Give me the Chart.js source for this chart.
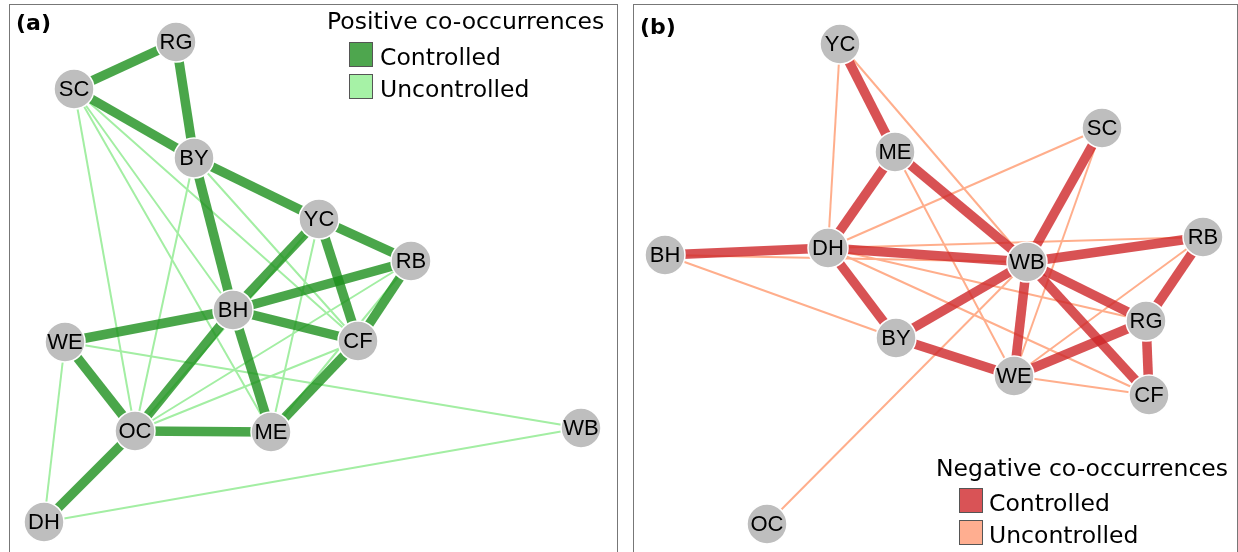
<!DOCTYPE html>
<html>
<head>
<meta charset="utf-8">
<script src="https://cdn.jsdelivr.net/npm/chart.js@4.4.1/dist/chart.umd.min.js"></script>
<style>
  body { margin: 0; background: #fff; width: 1238px; height: 552px; overflow: hidden; position: relative; }
  .panel { position: absolute; top: 4px; border: 1.5px solid #777; box-sizing: border-box; }
  .panel canvas { position: absolute; left: 0; top: 0; }
  .tag { position: absolute; font: bold 22px "DejaVu Sans"; color: #000; }
  .leg { position: absolute; font: 23.5px "DejaVu Sans"; color: #000; line-height: 1; white-space: nowrap; }
  .leg .box { position: absolute; width: 22px; height: 23px; border: 1px solid #555; }
  .leg .txt { position: absolute; }
</style>
</head>
<body>
<div class="panel" id="pa" style="left:9px; width:609px; height:560px;">
  <canvas id="chartA" width="606" height="556"></canvas>
</div>
<div class="panel" id="pb" style="left:633px; width:605px; height:560px;">
  <canvas id="chartB" width="602" height="556"></canvas>
</div>

<div class="tag" style="left:16px; top:10px;">(a)</div>
<div class="tag" style="left:640px; top:14px;">(b)</div>

<div class="leg" style="left:327px; top:10px;">
  <div style="position:absolute; left:0; top:0;">Positive co-occurrences</div>
  <div class="box" style="left:22px; top:32px; background:#4ea64e;"></div>
  <div class="txt" style="left:53px; top:36px;">Controlled</div>
  <div class="box" style="left:22px; top:64px; background:#a6f2a6;"></div>
  <div class="txt" style="left:53px; top:68px;">Uncontrolled</div>
</div>

<div class="leg" style="left:936px; top:457px;">
  <div style="position:absolute; left:0; top:0;">Negative co-occurrences</div>
  <div class="box" style="left:23px; top:31px; background:#d95356;"></div>
  <div class="txt" style="left:53px; top:35px;">Controlled</div>
  <div class="box" style="left:23px; top:63px; background:#ffae90;"></div>
  <div class="txt" style="left:53px; top:67px;">Uncontrolled</div>
</div>

<script>
// (a) positive co-occurrence network - node layout
const nodesA = ['RG', 'SC', 'BY', 'YC', 'RB', 'BH', 'CF', 'WE', 'OC', 'ME', 'DH', 'WB'];
const xA = [166, 64, 184, 309, 401, 223, 348, 55, 125, 261, 34, 571];
const yA = [37, 84, 153, 214, 256, 305, 336, 337, 426, 427, 517, 423];
const controlledA = [
  ['SC', 'RG'], ['RG', 'BY'], ['SC', 'BY'], ['BY', 'YC'], ['BY', 'BH'], ['YC', 'RB'],
  ['YC', 'BH'], ['YC', 'CF'], ['RB', 'BH'], ['RB', 'CF'], ['BH', 'WE'], ['BH', 'CF'],
  ['BH', 'OC'], ['BH', 'ME'], ['CF', 'ME'], ['WE', 'OC'], ['OC', 'ME'], ['OC', 'DH']
];
const uncontrolledA = [
  ['SC', 'OC'], ['SC', 'ME'], ['SC', 'BH'], ['SC', 'CF'], ['BY', 'OC'], ['BY', 'CF'],
  ['YC', 'ME'], ['YC', 'OC'], ['RB', 'OC'], ['RB', 'ME'], ['CF', 'OC'], ['WE', 'WB'],
  ['WE', 'DH'], ['DH', 'WB']
];

// (b) negative co-occurrence network
const nodesB = ['YC', 'ME', 'SC', 'DH', 'BH', 'WB', 'RB', 'RG', 'BY', 'WE', 'CF', 'OC'];
const xB = [206, 261, 468, 194, 31, 393, 569, 512, 262, 380, 515, 133];
const yB = [39, 147, 123, 243, 250, 257, 232, 316, 333, 371, 390, 519];
const controlledB = [
  ['YC', 'ME'], ['ME', 'DH'], ['ME', 'WB'], ['BH', 'DH'], ['DH', 'WB'], ['DH', 'BY'],
  ['SC', 'WB'], ['WB', 'RB'], ['WB', 'BY'], ['WB', 'WE'], ['WB', 'RG'], ['WB', 'CF'],
  ['BY', 'WE'], ['WE', 'RG'], ['RB', 'RG'], ['RG', 'CF']
];
const uncontrolledB = [
  ['YC', 'DH'], ['YC', 'WB'], ['ME', 'WE'], ['SC', 'DH'], ['SC', 'WE'], ['DH', 'RB'],
  ['DH', 'RG'], ['DH', 'CF'], ['BH', 'BY'], ['BH', 'WB'], ['OC', 'WB'], ['WE', 'RB'],
  ['WE', 'CF']
];

// draws the node names on top of the grey circles
const nodeLabels = {
  id: 'nodeLabels',
  afterDatasetsDraw(chart) {
    const ctx = chart.ctx;
    chart.data.datasets.forEach((ds, i) => {
      if (!ds.labels) return;
      const meta = chart.getDatasetMeta(i);
      ctx.save();
      ctx.font = '22px "Liberation Sans", Arial, sans-serif';
      ctx.fillStyle = '#000';
      ctx.textAlign = 'center';
      ctx.textBaseline = 'middle';
      meta.data.forEach((pt, j) => {
        ctx.fillText(ds.labels[j], pt.x, pt.y + 1);
      });
      ctx.restore();
    });
  }
};

function makeNetwork(id, nodes, xs, ys, strong, weak, strongColor, weakColor, w, h) {
  const pos = {};
  nodes.forEach((n, i) => { pos[n] = { x: xs[i], y: ys[i] }; });
  const datasets = [];
  datasets.push({
    data: nodes.map((n) => pos[n]),
    labels: nodes,
    pointRadius: 20,
    pointBackgroundColor: '#bebebe',
    pointBorderColor: '#ffffff',
    pointBorderWidth: 1.5,
    order: 0
  });
  strong.forEach((e) => {
    datasets.push({
      data: [pos[e[0]], pos[e[1]]],
      showLine: true,
      borderColor: strongColor,
      borderWidth: 9.5,
      pointRadius: 0,
      order: 1
    });
  });
  weak.forEach((e) => {
    datasets.push({
      data: [pos[e[0]], pos[e[1]]],
      showLine: true,
      borderColor: weakColor,
      borderWidth: 2,
      pointRadius: 0,
      order: 2
    });
  });
  return new Chart(document.getElementById(id), {
    type: 'scatter',
    data: { datasets: datasets },
    options: {
      responsive: false,
      animation: false,
      clip: false,
      layout: { padding: 0, autoPadding: false },
      plugins: { legend: { display: false }, tooltip: { enabled: false } },
      scales: {
        x: { type: 'linear', min: 0, max: w, display: false },
        y: { type: 'linear', min: 0, max: h, reverse: true, display: false }
      }
    },
    plugins: [nodeLabels]
  });
}

makeNetwork('chartA', nodesA, xA, yA, controlledA, uncontrolledA,
  'rgba(29, 144, 29, 0.8)', '#a3eea3', 606, 556);
makeNetwork('chartB', nodesB, xB, yB, controlledB, uncontrolledB,
  'rgba(206, 39, 41, 0.8)', '#ffae8c', 602, 556);
</script>
</body>
</html>
